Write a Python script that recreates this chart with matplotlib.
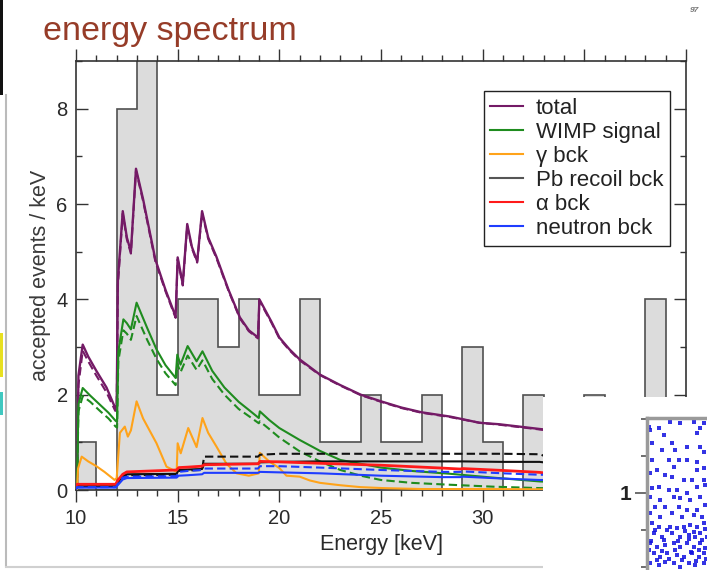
import matplotlib
matplotlib.use("Agg")
import matplotlib.pyplot as plt
from matplotlib.ticker import MultipleLocator
from matplotlib.patches import Rectangle
from matplotlib.lines import Line2D

plt.rcParams["font.family"] = ["Liberation Sans", "DejaVu Sans"]

# ---- measured spectrum: accepted events per 1 keV bin ----
bin_edges = [10, 11, 12, 13, 14, 15, 16, 17, 18, 19, 20, 21, 22, 23, 24, 25,
             26, 27, 28, 29, 30, 31, 32, 33, 34, 35, 36, 37, 38, 39, 40]
counts = [1, 0, 8, 10, 2, 4, 4, 3, 4, 2, 2, 4, 1, 1, 2, 1,
          1, 2, 0, 3, 1, 0, 2, 0, 0, 2, 0, 0, 4, 0]

# ---- model: total expectation ----
E_total = [10.0, 10.05, 10.12, 10.33, 10.6, 11.0, 11.5, 11.93, 12.0, 12.06, 12.3, 12.5,
           12.7, 12.95, 13.3, 13.9, 14.4, 14.9, 15.0, 15.25, 15.47, 15.7, 15.96, 16.2,
           16.5, 16.9, 17.5, 18.06, 18.5, 18.95, 19.02, 19.6, 20.0, 20.5, 21.0, 22.0,
           23.0, 24.0, 25.0, 26.0, 27.0, 28.4, 29.85, 30.8, 32.0, 32.8, 34.0, 36.0,
           38.0, 40.0]
total = [0.05, 0.1, 2.4, 3.05, 2.8, 2.5, 2.15, 1.72, 1.75, 4.4, 5.85, 5.3,
         5.0, 6.74, 6.1, 4.84, 4.2, 3.64, 4.88, 4.32, 5.58, 5.1, 4.8, 5.85,
         5.3, 4.9, 4.2, 3.62, 3.35, 3.2, 4.0, 3.54, 3.2, 2.95, 2.74, 2.42,
         2.2, 2.0, 1.86, 1.73, 1.63, 1.54, 1.41, 1.38, 1.32, 1.28, 1.22, 1.15,
         1.08, 1.02]
total_alt = [0.05, 0.1, 2.2, 2.92, 2.7, 2.4, 2.05, 1.66, 1.7, 4.3, 5.8, 5.26,
             4.96, 6.7, 6.06, 4.8, 4.17, 3.61, 4.84, 4.29, 5.54, 5.07, 4.77, 5.81,
             5.27, 4.87, 4.18, 3.6, 3.33, 3.18, 3.97, 3.52, 3.18, 2.93, 2.72, 2.41,
             2.19, 1.99, 1.85, 1.72, 1.62, 1.53, 1.41, 1.37, 1.31, 1.27, 1.21, 1.14,
             1.07, 1.01]

# ---- model: WIMP signal ----
E_wimp = [10.0, 10.05, 10.12, 10.33, 10.7, 11.2, 11.6, 11.95, 12.02, 12.08, 12.33, 12.5,
          12.7, 12.98, 13.5, 13.96, 14.4, 14.9, 14.98, 15.14, 15.49, 15.93, 16.22, 16.7,
          17.3, 18.0, 18.5, 18.99, 19.04, 19.5, 20.0, 21.0, 22.0, 23.0, 24.0, 25.0,
          26.5, 28.4, 30.5, 32.8, 35.0, 37.5, 40.0]
wimp = [0.0, 0.05, 1.8, 2.14, 1.98, 1.78, 1.62, 1.45, 1.43, 2.9, 3.58, 3.5,
        3.37, 3.93, 3.4, 2.95, 2.62, 2.35, 2.84, 2.63, 3.02, 2.7, 2.91, 2.5,
        2.15, 1.85, 1.68, 1.51, 1.65, 1.47, 1.3, 1.05, 0.82, 0.63, 0.55, 0.47,
        0.4, 0.34, 0.26, 0.18, 0.13, 0.1, 0.08]
wimp_alt = [0.0, 0.05, 1.65, 1.97, 1.85, 1.65, 1.5, 1.33, 1.31, 2.7, 3.35, 3.28,
            3.15, 3.65, 3.15, 2.75, 2.45, 2.2, 2.65, 2.47, 2.82, 2.52, 2.72, 2.33,
            2.0, 1.7, 1.55, 1.4, 1.44, 1.28, 1.1, 0.81, 0.6, 0.42, 0.3, 0.21,
            0.15, 0.11, 0.07, 0.04, 0.03, 0.02, 0.02]

# ---- model: gamma background ----
E_gamma = [10.0, 10.05, 10.1, 10.28, 10.6, 11.0, 11.4, 11.9, 12.0, 12.16, 12.4, 12.55,
           12.7, 12.98, 13.3, 13.96, 14.45, 14.95, 15.0, 15.15, 15.52, 15.93, 16.22, 16.5,
           16.91, 17.4, 17.9, 18.5, 18.99, 19.04, 19.5, 20.0, 20.35, 21.0, 21.5, 22.0,
           23.0, 24.0, 25.1, 27.0, 30.0, 35.0, 40.0]
gamma = [0.0, 0.02, 0.45, 0.7, 0.6, 0.5, 0.38, 0.21, 0.25, 1.2, 1.33, 1.12,
         1.25, 1.86, 1.5, 0.98, 0.49, 0.38, 0.98, 0.77, 1.3, 0.9, 1.51, 1.2,
         0.91, 0.55, 0.35, 0.3, 0.35, 0.78, 0.6, 0.46, 0.3, 0.28, 0.2, 0.15,
         0.1, 0.06, 0.04, 0.02, 0.02, 0.01, 0.01]

# ---- model: slowly varying backgrounds ----
E_bck = [10.0, 10.05, 11.95, 12.05, 12.3, 12.5, 14.95, 15.05, 15.5, 16.2, 16.3, 18.95,
         19.05, 20.0, 22.0, 25.0, 28.0, 28.9, 29.0, 31.0, 32.8, 33.0, 35.0, 40.0]
pb = [0.02, 0.08, 0.08, 0.15, 0.3, 0.33, 0.34, 0.42, 0.43, 0.44, 0.55, 0.55,
      0.58, 0.59, 0.6, 0.6, 0.6, 0.6, 0.6, 0.59, 0.59, 0.58, 0.58, 0.58]
pb_alt = [0.02, 0.07, 0.07, 0.14, 0.29, 0.31, 0.32, 0.4, 0.41, 0.42, 0.7, 0.7,
          0.74, 0.76, 0.76, 0.76, 0.76, 0.76, 0.76, 0.76, 0.75, 0.72, 0.72, 0.72]
alpha_b = [0.08, 0.12, 0.12, 0.2, 0.33, 0.38, 0.42, 0.47, 0.48, 0.5, 0.53, 0.55,
           0.6, 0.59, 0.56, 0.52, 0.46, 0.44, 0.45, 0.41, 0.37, 0.36, 0.33, 0.28]
neutron = [0.02, 0.05, 0.05, 0.1, 0.22, 0.25, 0.26, 0.3, 0.31, 0.33, 0.36, 0.36,
           0.38, 0.37, 0.35, 0.3, 0.27, 0.27, 0.28, 0.24, 0.21, 0.21, 0.19, 0.15]
neutron_alt = [0.03, 0.06, 0.06, 0.12, 0.26, 0.28, 0.29, 0.38, 0.4, 0.42, 0.45, 0.45,
               0.5, 0.5, 0.47, 0.42, 0.38, 0.38, 0.39, 0.35, 0.32, 0.32, 0.29, 0.25]

legend_labels = ["total", "WIMP signal", "\u03b3 bck", "Pb recoil bck", "\u03b1 bck", "neutron bck"]
colors = {"total": "#741a66", "wimp": "#1f8c1f", "gamma": "#ffa31a",
          "pb": "#111111", "alpha": "#ff1a1a", "neutron": "#1f3dff"}

# ---- inset scatter (event cloud) ----
inset_x = [1.7, 3.3, 11.7, 23.3, 33.3, 46.7, 50, 53.3, 56.7, 16.7, 5, 25, 15, 28.3, 40, 53.3,
           56.7, 5, 21.7, 31.7, 40, 50, 26.7, 10, 3.3, 18.3, 25, 50, 56.7, 36.7, 45, 56.7,
           5, 11.7, 21.7, 30, 40, 50, 58.3, 3.3, 13.3, 26.7, 33.3, 43.3, 53.3, 8.3, 18.3,
           31.7, 40, 50, 58.3, 3.3, 13.3, 25, 35, 46.7, 55, 5, 11.7, 23.3, 30, 36.7, 43.3,
           50, 56.7, 6.7, 15, 25, 33.3, 41.7, 48.3, 53.3, 60, 3.3, 10, 18.3, 26.7, 33.3,
           40, 46.7, 53.3, 58.3, 6.7, 13.3, 20, 30, 36.7, 45, 51.7, 56.7, 3.3, 11.7, 18.3,
           26.7, 33.3, 41.7, 48.3, 56.7,
           8, 20, 38, 47, 58, 2, 15, 28, 44, 52, 10, 22, 35, 49, 59, 4, 17, 31, 42, 55]
inset_y = [1.446, 1.423, 1.435, 1.480, 1.468, 1.480, 1.401, 1.435, 1.468, 1.390, 1.333, 1.333,
           1.288, 1.288, 1.311, 1.311, 1.277, 1.221, 1.221, 1.221, 1.221, 1.209, 1.176, 1.153,
           1.131, 1.119, 1.108, 1.153, 1.164, 1.086, 1.086, 1.086, 1.029, 1.041, 1.018, 1.018,
           0.995, 1.041, 1.052, 0.973, 0.950, 0.973, 0.962, 0.950, 0.973, 0.905, 0.905, 0.905,
           0.883, 0.883, 0.917, 0.860, 0.838, 0.860, 0.838, 0.849, 0.838, 0.793, 0.770, 0.770,
           0.759, 0.770, 0.782, 0.770, 0.793, 0.725, 0.703, 0.725, 0.703, 0.714, 0.703, 0.725,
           0.703, 0.658, 0.635, 0.646, 0.658, 0.635, 0.658, 0.635, 0.658, 0.624, 0.590, 0.568,
           0.590, 0.579, 0.568, 0.590, 0.568, 0.590, 0.523, 0.511, 0.534, 0.523, 0.500, 0.523,
           0.511, 0.523,
           0.745, 0.748, 0.742, 0.735, 0.752, 0.612, 0.605, 0.615, 0.600, 0.610,
           0.545, 0.552, 0.548, 0.540, 0.555, 0.675, 0.680, 0.672, 0.685, 0.678]

W, H = 707, 570


def fbox(x0, y0, x1, y1):
    """pixel box (origin top-left) -> figure rectangle"""
    return [x0 / W, 1 - y1 / H, (x1 - x0) / W, (y1 - y0) / H]


fig = plt.figure(figsize=(W / 100, H / 100), dpi=100)
fig.patch.set_facecolor("white")

ax = fig.add_axes(fbox(76, 61, 686, 490))
ax.stairs(counts, bin_edges, fill=True, facecolor="#dcdcdc", edgecolor="none", zorder=1)
ax.stairs(counts, bin_edges, fill=False, edgecolor="#505050", linewidth=1.2, zorder=1.5)

dash = (0, (4, 2))
lw = 1.5
ax.plot(E_total, total_alt, color=colors["total"], lw=lw, ls=dash, zorder=3)
ax.plot(E_total, total, color=colors["total"], lw=1.7, zorder=3)
ax.plot(E_wimp, wimp_alt, color=colors["wimp"], lw=lw, ls=dash, zorder=3)
ax.plot(E_wimp, wimp, color=colors["wimp"], lw=lw, zorder=3)
ax.plot(E_gamma, gamma, color=colors["gamma"], lw=lw, zorder=3)
ax.plot(E_bck, pb_alt, color=colors["pb"], lw=lw, ls=dash, zorder=3)
ax.plot(E_bck, pb, color=colors["pb"], lw=lw, zorder=3)
ax.plot(E_bck, alpha_b, color=colors["alpha"], lw=2.0, zorder=3)
ax.plot(E_bck, neutron_alt, color=colors["neutron"], lw=lw, ls=dash, zorder=3)
ax.plot(E_bck, neutron, color=colors["neutron"], lw=lw, zorder=3)

ax.set_xlim(10, 40)
ax.set_ylim(0, 9)
ax.xaxis.set_major_locator(MultipleLocator(5))
ax.xaxis.set_minor_locator(MultipleLocator(1))
ax.yaxis.set_major_locator(MultipleLocator(2))
ax.yaxis.set_minor_locator(MultipleLocator(1))
ax.tick_params(axis="x", which="both", direction="out", top=True, colors="#333333",
               labelsize=14.5, pad=5)
ax.tick_params(axis="y", which="both", direction="in", right=True, colors="#333333",
               labelsize=14.5, pad=6)
ax.tick_params(which="major", length=8.5, width=1.0)
ax.tick_params(which="minor", length=4.3, width=1.0)
for lab in ax.get_xticklabels() + ax.get_yticklabels():
    lab.set_color("#2a2a2a")
for s in ax.spines.values():
    s.set_color("#333333")
    s.set_linewidth(1.2)

ax.set_xlabel("Energy [keV]", fontsize=15.5, color="#2a2a2a")
ax.set_ylabel("accepted events / keV", fontsize=15.5, color="#3a3a3a")
ax.xaxis.set_label_coords(0.5, -0.126)
ax.xaxis.label.set_va("center")
ax.yaxis.set_label_coords(-0.059, 0.5)
ax.yaxis.label.set_va("center")

handles = [Line2D([], [], color=colors["total"], lw=1.5),
           Line2D([], [], color=colors["wimp"], lw=1.5),
           Line2D([], [], color=colors["gamma"], lw=1.5),
           Line2D([], [], color="#555555", lw=1.5),
           Line2D([], [], color=colors["alpha"], lw=1.5),
           Line2D([], [], color=colors["neutron"], lw=1.5)]
leg = ax.legend(handles, legend_labels, loc="upper right", bbox_to_anchor=(0.974, 0.930),
                borderaxespad=0, fontsize=16, frameon=True, fancybox=False,
                edgecolor="#222222", framealpha=1, borderpad=0.3, labelspacing=0.14,
                handlelength=1.45, handletextpad=0.6)
leg.get_frame().set_linewidth(1.0)
for t in leg.get_texts():
    t.set_color("#222222")

# slide title
fig.text(43 / W, 1 - 40 / H, "energy spectrum", fontsize=24.5, color="#963c28",
         ha="left", va="baseline")
fig.text(699 / W, 1 - 10 / H, "97", fontsize=6, color="#777777", style="italic",
         weight="bold", ha="right", va="center")

# slide frame pieces on the left and bottom edges
fig.add_artist(Rectangle((0, 1 - 95 / H), 3 / W, 95 / H, transform=fig.transFigure,
                         facecolor="#111111", edgecolor="none"))
fig.add_artist(Rectangle((0, 1 - 377 / H), 3 / W, 44 / H, transform=fig.transFigure,
                         facecolor="#e8e020", edgecolor="none"))
fig.add_artist(Rectangle((0, 1 - 415 / H), 3 / W, 23 / H, transform=fig.transFigure,
                         facecolor="#40c8c0", edgecolor="none"))
fig.add_artist(Line2D([5.5 / W, 5.5 / W], [1 - 95 / H, 1 - 566 / H], transform=fig.transFigure,
                      color="#bbbbbb", lw=1.5))
fig.add_artist(Line2D([5.5 / W, 545 / W], [1 - 567 / H, 1 - 567 / H], transform=fig.transFigure,
                      color="#d0d0d0", lw=1.5))

# overlapping inset panel in the lower right corner
fig.add_artist(Rectangle((543 / W, 0), (W - 543) / W, 173 / H, transform=fig.transFigure,
                         facecolor="white", edgecolor="none", zorder=5))
iax = fig.add_axes(fbox(647, 418, 767, 600), zorder=10)
iax.patch.set_facecolor("white")
iax.scatter(inset_x, inset_y, s=10, marker="s", color="#1010e0", alpha=0.85, linewidths=0)
iax.set_xlim(0, 120)
iax.set_ylim(0.275, 1.505)
iax.yaxis.set_major_locator(MultipleLocator(1))
iax.yaxis.set_minor_locator(MultipleLocator(0.25))
iax.set_xticks([])
iax.tick_params(axis="y", which="major", length=9, width=1.2, colors="#555555",
                labelsize=15, pad=2)
iax.tick_params(axis="y", which="minor", length=4, width=1.2, colors="#555555")
for lab in iax.get_yticklabels():
    lab.set_color("#222222")
    lab.set_fontweight("bold")
for side in ("left", "top"):
    iax.spines[side].set_color("#9a9a9a")
    iax.spines[side].set_linewidth(2.5)
for side in ("right", "bottom"):
    iax.spines[side].set_visible(False)

fig.savefig("out.png", dpi=100)
